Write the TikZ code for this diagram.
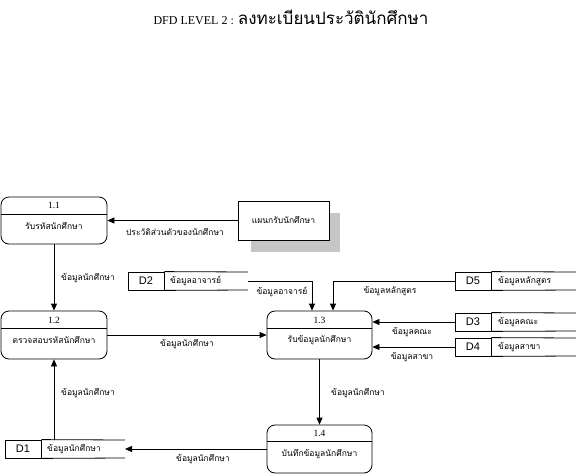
\documentclass[tikz,border=0pt]{standalone}
\usepackage{fontspec}
\setmainfont{Liberation Serif}
\newfontfamily\thaifont[Script=Thai]{Loma}
\newfontfamily\arialfont{Liberation Sans}
\usetikzlibrary{arrows.meta,calc}
\begin{document}
\begin{tikzpicture}[x=1pt,y=-1pt,
  proc/.style={draw, rounded corners=8pt, line width=0.8pt, inner sep=0},
  ent/.style={draw, fill=white, line width=0.8pt, inner sep=0},
  cell/.style={draw, line width=0.8pt, inner sep=0, minimum width=36pt, minimum height=18pt, font=\arialfont\fontsize{11}{13}\selectfont},
  num/.style={font=\fontsize{9.5}{11}\selectfont, inner sep=0},
  th/.style={font=\thaifont\fontsize{8.5}{10}\selectfont, inner sep=0},
  flow/.style={-{Triangle[length=7pt,width=6pt]}, line width=0.8pt},
  ln/.style={line width=0.8pt}]
\useasboundingbox (0,0) rectangle (576,474);

% title
\node[inner sep=0] (title) at (291,17) {\fontsize{12}{14}\selectfont DFD LEVEL 2 : {\thaifont\fontsize{17}{19}\selectfont ลงทะเบียนประวัตินักศึกษา}};

% process 1.1
\node[proc, minimum width=106pt, minimum height=47pt] (p11) at (54,220.5) {};
\draw[ln] (1,214) -- (107,214);
\node[num] (n11) at (54,205.5) {1.1};
\node[th] (t11) at (54,226) {รับรหัสนักศึกษา};

% process 1.2
\node[proc, minimum width=106pt, minimum height=48pt] (p12) at (54,335) {};
\draw[ln] (1,328) -- (107,328);
\node[num] (n12) at (54,320) {1.2};
\node[th] (t12) at (54,340) {ตรวจสอบรหัสนักศึกษา};

% process 1.3
\node[proc, minimum width=105pt, minimum height=48pt] (p13) at (319.5,335) {};
\draw[ln] (267,328) -- (372,328);
\node[num] (n13) at (319.5,320) {1.3};
\node[th] (t13) at (319.5,340) {รับข้อมูลนักศึกษา};

% process 1.4
\node[proc, minimum width=105pt, minimum height=48pt] (p14) at (319.5,449) {};
\draw[ln] (267,441) -- (372,441);
\node[num] (n14) at (319.5,433) {1.4};
\node[th] (t14) at (319.5,454) {บันทึกข้อมูลนักศึกษา};

% external entity with shadow
\fill[gray!45] (251,213) rectangle (340,252);
\node[ent, minimum width=91pt, minimum height=39pt] (ent) at (283.5,220.5) {};
\node[th] (tent) at (283.5,220.5) {แผนกรับนักศึกษา};

% data stores
\node[cell] (d2) at (146,281) {D2};
\draw[ln] (d2.north east) -- (248,272);
\draw[ln] (d2.south east) -- (248,290);
\coordinate (d2e) at (248,281);
\node[th, anchor=west] (d2t) at (170,281) {ข้อมูลอาจารย์};

\node[cell] (d5) at (473,281) {D5};
\draw[ln] (d5.north east) -- (576,272);
\draw[ln] (d5.south east) -- (576,290);
\node[th, anchor=west] (d5t) at (498,281) {ข้อมูลหลักสูตร};

\node[cell] (d3) at (473,322) {D3};
\draw[ln] (d3.north east) -- (576,313);
\draw[ln] (d3.south east) -- (576,331);
\node[th, anchor=west] (d3t) at (498,322) {ข้อมูลคณะ};

\node[cell] (d4) at (473,347) {D4};
\draw[ln] (d4.north east) -- (576,338);
\draw[ln] (d4.south east) -- (576,356);
\node[th, anchor=west] (d4t) at (498,347) {ข้อมูลสาขา};

\node[cell] (d1) at (23,449) {D1};
\draw[ln] (d1.north east) -- (125,440);
\draw[ln] (d1.south east) -- (125,458);
\coordinate (d1e) at (125,449);
\node[th, anchor=west] (d1t) at (47,449) {ข้อมูลนักศึกษา};

% flows
\draw[flow] (ent.west) -- (ent.west -| p11.east);
\node[th] (f1) at (175,232) {ประวัติส่วนตัวของนักศึกษา};

\draw[flow] (p11.south) -- (p12.north);
\node[th] (f2) at (88,278) {ข้อมูลนักศึกษา};

\draw[flow] (p12.east) -- (p13.west);
\node[th] (f3) at (187,344) {ข้อมูลนักศึกษา};

\draw[flow] (d2e) -| ($(p13.north)+(-7.5,0)$);
\node[th] (f4) at (282,292) {ข้อมูลอาจารย์};

\draw[flow] (d5.west) -| ($(p13.north)+(13.5,0)$);
\node[th] (f5) at (390,291) {ข้อมูลหลักสูตร};

\draw[flow] (d3.west) -- (d3.west -| p13.east);
\node[th] (f6) at (412,332) {ข้อมูลคณะ};

\draw[flow] (d4.west) -- (d4.west -| p13.east);
\node[th] (f7) at (412,357) {ข้อมูลสาขา};

\draw[flow] (p13.south) -- (p14.north);
\node[th] (f8) at (358,393) {ข้อมูลนักศึกษา};

\draw[flow] (p14.west) -- (d1e);
\node[th] (f9) at (203,459) {ข้อมูลนักศึกษา};

\draw[flow] (p12.south |- d1.north) -- (p12.south);
\node[th] (f10) at (88,393) {ข้อมูลนักศึกษา};
\end{tikzpicture}
\end{document}
